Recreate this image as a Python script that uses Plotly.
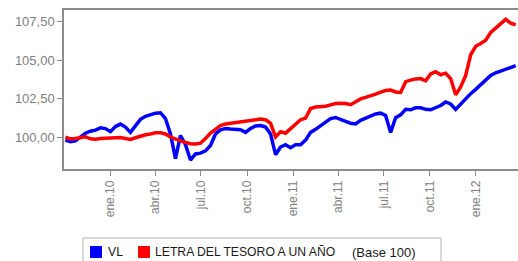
import pandas as pd
import plotly.graph_objects as go

# Dates: one reading every 10 days, Oct 2009 - Mar 2012
start_date = "2009-10-03"
n_points = 91

vl = [99.8, 99.7, 99.75, 100.0, 100.25, 100.38, 100.45, 100.6, 100.55, 100.35,
      100.68, 100.84, 100.65, 100.3, 100.7, 101.15, 101.35, 101.45, 101.55, 101.58,
      101.2, 100.2, 98.6, 100.1, 99.5, 98.5, 98.9, 98.95, 99.1, 99.45,
      100.2, 100.47, 100.55, 100.52, 100.5, 100.48, 100.3, 100.55, 100.72, 100.75,
      100.65, 100.2, 98.85, 99.35, 99.5, 99.3, 99.5, 99.5, 99.8, 100.3,
      100.5, 100.75, 100.95, 101.2, 101.27, 101.12, 101.02, 100.9, 100.85, 101.08,
      101.2, 101.38, 101.5, 101.55, 101.4, 100.3, 101.25, 101.44, 101.8, 101.77,
      101.9, 101.9, 101.8, 101.77, 101.9, 102.05, 102.28, 102.15, 101.8, 102.15,
      102.55, 102.82, 103.1, 103.4, 103.68, 104.0, 104.18, 104.28, 104.38, 104.52,
      104.65]

letra = [100.0, 99.88, 99.9, 99.97, 100.02, 99.88, 99.86, 99.9, 99.93, 99.97,
         99.96, 99.97, 99.92, 99.84, 99.95, 100.08, 100.15, 100.2, 100.28, 100.28,
         100.2, 100.0, 99.85, 99.75, 99.65, 99.56, 99.55, 99.6, 99.9, 100.25,
         100.5, 100.75, 100.85, 100.9, 100.92, 100.97, 101.02, 101.07, 101.12, 101.17,
         101.12, 100.9, 100.0, 100.35, 100.25, 100.55, 100.85, 101.12, 101.23, 101.85,
         101.95, 101.98, 102.0, 102.09, 102.18, 102.2, 102.18, 102.1, 102.3, 102.48,
         102.58, 102.66, 102.79, 102.92, 103.02, 103.05, 102.93, 102.9, 103.6, 103.7,
         103.78, 103.8, 103.65, 104.1, 104.24, 104.05, 104.15, 103.8, 102.75, 103.25,
         104.0, 105.35, 105.9, 106.08, 106.3, 106.8, 107.1, 107.4, 107.65, 107.4,
         107.3]

x_tick_vals = ["2010-01-01", "2010-04-01", "2010-07-01", "2010-10-01", "2011-01-01",
               "2011-04-01", "2011-07-01", "2011-10-01", "2012-01-01"]
x_tick_text = ["ene.10", "abr.10", "jul.10", "oct.10", "ene.11",
               "abr.11", "jul.11", "oct.11", "ene.12"]
y_tick_vals = [100, 102.5, 105, 107.5]
y_tick_text = ["100,00", "102,50", "105,00", "107,50"]

series_names = ["VL", "LETRA DEL TESORO A UN AÑO"]
series_colors = ["#0000FF", "#FF0000"]
base_note = "(Base 100)"

dates = pd.date_range(start=start_date, periods=n_points, freq="10D")

W, H = 518, 261
L, R, T, B = 64, 0, 10, 92
PW, PH = W - L - R, H - T - B


def px_x(p):
    return (p - L) / PW


def px_y(p):
    return (H - B - p) / PH


fig = go.Figure()
for name, vals, color in zip(series_names, [vl, letra], series_colors):
    fig.add_trace(go.Scatter(x=dates, y=vals, mode="lines", name=name,
                             line=dict(color=color, width=3.5),
                             showlegend=False, hoverinfo="skip"))

axis_color = "#8c8c8c"
font_family = "Liberation Sans, Arial, sans-serif"

# legend box drawn by hand to match the original layout
shapes = [dict(type="rect", xref="paper", yref="paper",
               x0=px_x(83), x1=px_x(441), y0=px_y(280), y1=px_y(238),
               line=dict(color="#b4b4b4", width=1), fillcolor="white", layer="above")]
annotations = []
sq_left = [90, 138]
txt_left = [106, 153]
for name, color, sx, tx in zip(series_names, series_colors, sq_left, txt_left):
    shapes.append(dict(type="rect", xref="paper", yref="paper",
                       x0=px_x(sx), x1=px_x(sx + 12), y0=px_y(258), y1=px_y(246),
                       line=dict(width=0), fillcolor=color, layer="above"))
    annotations.append(dict(text=name, xref="paper", yref="paper",
                            x=px_x(tx), y=px_y(252), xanchor="left", yanchor="middle",
                            showarrow=False, font=dict(size=12.2, color="#1a1a1a")))
annotations.append(dict(text=base_note, xref="paper", yref="paper",
                        x=px_x(350), y=px_y(252), xanchor="left", yanchor="middle",
                        showarrow=False, font=dict(size=13, color="#1a1a1a")))

fig.update_layout(
    width=W, height=H,
    margin=dict(l=L, r=R, t=T, b=B, autoexpand=False),
    paper_bgcolor="white", plot_bgcolor="white",
    font=dict(family=font_family, color="#808080"),
    showlegend=False,
    shapes=shapes, annotations=annotations,
    xaxis=dict(range=["2009-09-30 05:00", "2012-03-25 14:00"],
               tickvals=x_tick_vals, ticktext=x_tick_text, tickangle=-90,
               ticks="outside", ticklen=5, tickcolor=axis_color,
               tickfont=dict(size=12, color="#808080"), automargin=False,
               showline=True, linecolor=axis_color, linewidth=1.5, mirror=True,
               showgrid=False, zeroline=False),
    yaxis=dict(range=[97.92, 108.26],
               tickvals=y_tick_vals, ticktext=y_tick_text,
               ticks="outside", ticklen=5, tickcolor=axis_color,
               tickfont=dict(size=13, color="#808080"), automargin=False,
               showline=True, linecolor=axis_color, linewidth=1.5,
               showgrid=False, zeroline=False),
)

fig.write_html(
    "out.html",
    config={"displayModeBar": False},
    post_script="document.body.style.margin='0';document.body.style.overflow='hidden';",
)
